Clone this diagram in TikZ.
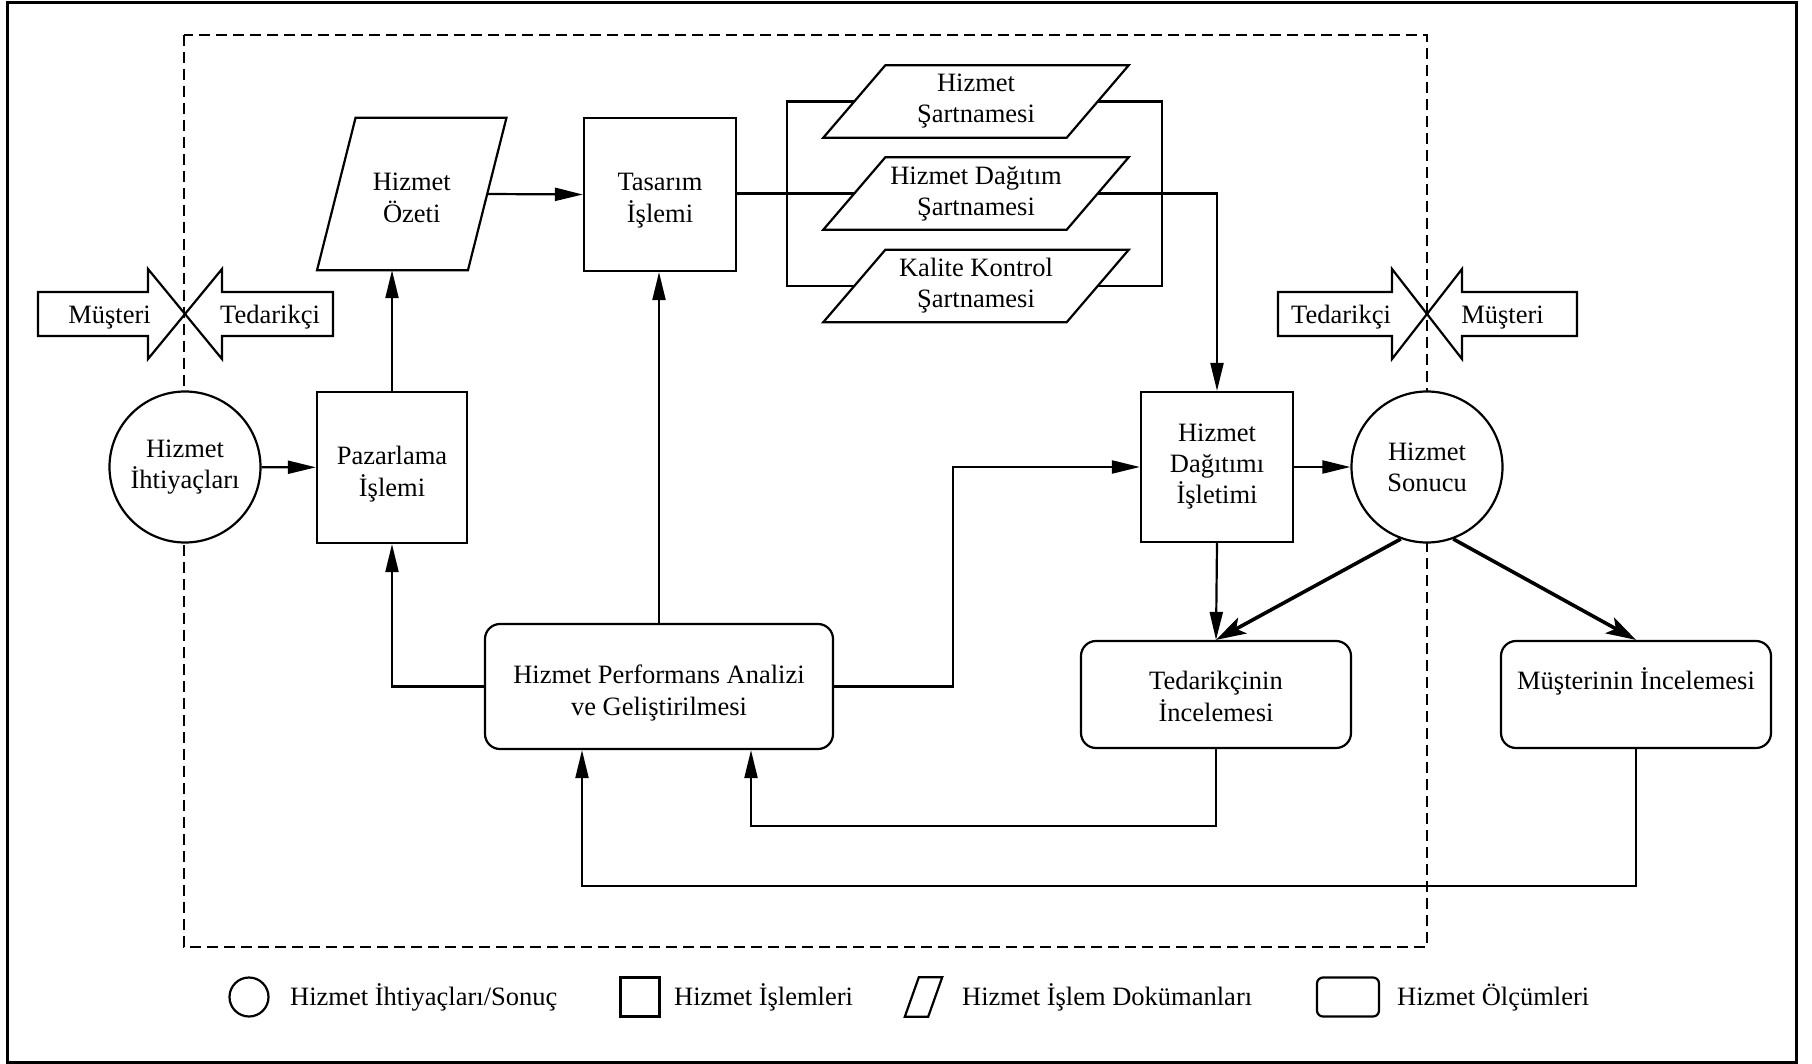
\documentclass[tikz,border=0pt]{standalone}
\usepackage{fontspec}
\setmainfont{Liberation Serif}
\usetikzlibrary{arrows.meta,calc}

% outline of a document (parallelogram) around a node; #2 = half of the slant
\newcommand\docoutline[2]{%
  \draw[ln] ([xshift=-#2]#1.south west) -- ([xshift=-#2]#1.south east)
    -- ([xshift=#2]#1.north east) -- ([xshift=#2]#1.north west) -- cycle;}
% struts that fix the height of the first line and the depth of the last one
\newcommand\upstrut{\rule{0pt}{32pt}}
\newcommand\downstrut{\rule[-7pt]{0pt}{7pt}}
\newcommand\deepstrut{\rule[-11pt]{0pt}{11pt}}

\begin{document}
\begin{tikzpicture}[x=1pt,y=-1pt,
  every node/.style={font={\fontsize{26.5}{31}\selectfont}, align=center, inner sep=0pt},
  tx/.style={font={\fontsize{26.5}{32}\selectfont}},
  ln/.style={line width=2.2pt},
  conn/.style={ln, -{Triangle[length=28pt,width=13pt]}},
  plain/.style={ln},
  thickarrow/.style={line width=3.6pt, -{Stealth[length=30pt,width=18pt,inset=7pt]}},
  proc/.style={draw, ln, rectangle, fill=white},
  need/.style={draw, ln, circle, fill=white, minimum size=151pt},
  doc/.style={rectangle, minimum width=243pt, minimum height=72pt},
  measure/.style={draw, ln, rectangle, rounded corners=15pt, fill=white},
  boundary/.style={line width=2pt, dash pattern=on 11pt off 6pt},
  sidearrow/.style={ln, fill=white}
]
\useasboundingbox (0,0) rectangle (1812,1064);

% outer frame
\draw[line width=3pt] (7,3) rectangle (1796,1062);

% organisation boundary
\draw[boundary] (184,35) rectangle (1427,947);

% customer / supplier arrows, left
\draw[sidearrow] (38,292) -- (148,292) -- (148,269) -- (185,314) -- (148,359) -- (148,336) -- (38,336) -- cycle;
\draw[sidearrow] (333,292) -- (222,292) -- (222,269) -- (185,314) -- (222,359) -- (222,336) -- (333,336) -- cycle;
\node[anchor=base] (lmus) at (109.5,324) {Müşteri};
\node[anchor=base] (lted) at (270,324) {Tedarikçi};

% supplier / customer arrows, right
\draw[sidearrow] (1278,292) -- (1392,292) -- (1392,269) -- (1427,314) -- (1392,359) -- (1392,336) -- (1278,336) -- cycle;
\draw[sidearrow] (1577,292) -- (1462,292) -- (1462,269) -- (1427,314) -- (1462,359) -- (1462,336) -- (1577,336) -- cycle;
\node[anchor=base] (rted) at (1341,324) {Tedarikçi};
\node[anchor=base] (rmus) at (1502.5,324) {Müşteri};

% main nodes
\node[need] (ihtiyac) at (185,467) {Hizmet\\İhtiyaçları};
\node[proc, tx, minimum width=150pt, minimum height=151pt] (pazar) at (392,467.5) {\upstrut Pazarlama\\İşlemi\downstrut};
\node[rectangle, tx, minimum width=150.5pt, minimum height=152pt] (ozet) at (411.75,194) {\upstrut Hizmet\\Özeti\downstrut};
\docoutline{ozet}{19.25pt}
\node[proc, tx, minimum width=152pt, minimum height=153pt] (tasarim) at (660,194.5) {\upstrut Tasarım\\İşlemi\downstrut};

\node[doc] (spec1) at (976,101.5) {Hizmet\\Şartnamesi};
\docoutline{spec1}{31pt}
\node[doc] (spec2) at (976,193.5) {Hizmet Dağıtım\\Şartnamesi};
\docoutline{spec2}{31pt}
\node[doc] (spec3) at (976,286) {Kalite Kontrol\\Şartnamesi};
\docoutline{spec3}{31pt}

\node[proc, minimum width=152pt, minimum height=150pt] (dagitim) at (1217,467) {Hizmet\\Dağıtımı\\İşletimi};
\node[need] (sonucu) at (1427,467) {Hizmet\\Sonucu};

\node[measure, tx, minimum width=348pt, minimum height=125pt] (perf) at (659,686.5) {\upstrut Hizmet Performans Analizi\\ve Geliştirilmesi\downstrut};
\node[measure, tx, minimum width=270pt, minimum height=107pt] (tedarik) at (1216,694.5) {\upstrut Tedarikçinin\\İncelemesi\deepstrut};
\node[measure, tx, minimum width=270pt, minimum height=107pt] (musteri) at (1636,694.5) {\upstrut Müşterinin İncelemesi\\\deepstrut};

% bend points
\coordinate (brl) at (787,193.5);
\coordinate (brr) at (1162,193.5);
\coordinate (pbend) at (953,467);
\coordinate (fb1) at (751,826);
\coordinate (fb2) at (582,886);

% connectors
\draw[conn] (ihtiyac) -- (pazar);
\draw[conn] (pazar.north) -- (pazar.north |- ozet.south);
\draw[conn] (ozet.east) -- (tasarim.west);
\draw[plain] (tasarim.east |- spec2.west) -- (spec2.west);
\draw[plain] (spec1.west) -| (brl) |- (spec3.west);
\draw[plain] (spec1.east) -| (brr) |- (spec3.east);
\draw[conn] (spec2.east) -| (dagitim.north);
\draw[conn] (perf.north) -- (perf.north |- tasarim.south);
\draw[conn] (perf.west) -| (pazar.south);
\draw[conn] (perf.east) -| (pbend) -- (dagitim.west);
\draw[conn] (dagitim) -- (sonucu);
\draw[conn] (dagitim.south) -- (tedarik.north);
\draw[thickarrow] (sonucu.250) -- (tedarik.north);
\draw[thickarrow] (sonucu.290) -- (musteri.north);
\draw[conn] (tedarik.south) |- (fb1) -- (fb1 |- perf.south);
\draw[conn] (musteri.south) |- (fb2) -- (fb2 |- perf.south);

% legend
\node[draw, ln, circle, minimum size=39pt] (lg1) at (249,997) {};
\node[anchor=base west] (lt1) at (290,1005) {Hizmet İhtiyaçları/Sonuç};
\node[draw, ln, minimum width=39pt, minimum height=39pt] (lg2) at (640,997) {};
\node[anchor=base west] (lt2) at (674,1005) {Hizmet İşlemleri};
\node[minimum width=23pt, minimum height=39pt] (lg3) at (923.5,997) {};
\docoutline{lg3}{7pt}
\node[anchor=base west] (lt3) at (962,1005) {Hizmet İşlem Dokümanları};
\node[draw, ln, rounded corners=6pt, minimum width=62pt, minimum height=39pt] (lg4) at (1348,997) {};
\node[anchor=base west] (lt4) at (1397,1005) {Hizmet Ölçümleri};
\end{tikzpicture}
\end{document}
